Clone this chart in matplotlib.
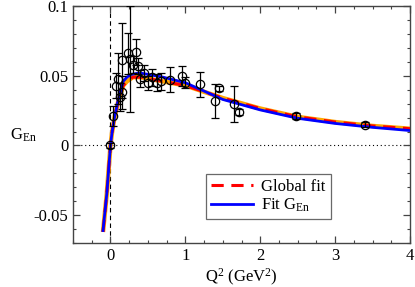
import matplotlib
matplotlib.use("Agg")
import matplotlib.pyplot as plt
from matplotlib.ticker import MultipleLocator

plt.rcParams['font.family'] = ['Liberation Serif', 'DejaVu Serif']
plt.rcParams['mathtext.fontset'] = 'custom'
plt.rcParams['mathtext.rm'] = 'Liberation Serif'
plt.rcParams['mathtext.it'] = 'Liberation Serif:italic'

# Data points (Q^2, G_En, error)
data_x = [0.00, 0.03, 0.07, 0.10, 0.13, 0.15, 0.16, 0.23, 0.26, 0.30, 0.34, 0.37,
          0.40, 0.45, 0.50, 0.56, 0.62, 0.67, 0.79, 0.96, 1.00, 1.19, 1.40, 1.45,
          1.65, 1.72, 2.48, 3.40]
data_y = [0.000, 0.021, 0.043, 0.048, 0.035, 0.061, 0.038, 0.066, 0.062, 0.058, 0.067, 0.057,
          0.048, 0.052, 0.045, 0.049, 0.045, 0.046, 0.047, 0.050, 0.045, 0.044, 0.032, 0.041,
          0.030, 0.024, 0.021, 0.015]
data_err = [0.002, 0.007, 0.009, 0.018, 0.010, 0.027, 0.012, 0.015, 0.038, 0.006, 0.009, 0.006,
            0.006, 0.006, 0.005, 0.006, 0.006, 0.006, 0.009, 0.007, 0.004, 0.009, 0.012, 0.002,
            0.013, 0.002, 0.002, 0.0015]

# Fit curves
blue_x = [-0.10, -0.05, 0.00, 0.02, 0.05, 0.10, 0.17, 0.22, 0.28, 0.39, 0.50, 0.70,
          1.00, 1.50, 2.00, 2.50, 3.00, 3.50, 4.00]
blue_y = [-0.061, -0.035, 0.000, 0.009, 0.019, 0.032, 0.046, 0.049, 0.051, 0.052, 0.051, 0.049,
          0.045, 0.033, 0.0255, 0.0195, 0.0158, 0.0130, 0.0107]
red_x = [-0.10, -0.05, 0.00, 0.02, 0.05, 0.10, 0.17, 0.22, 0.30, 0.40, 0.50, 0.70,
         1.00, 1.50, 2.00, 2.50, 3.00, 3.50, 4.00]
red_y = [-0.062, -0.035, 0.000, 0.009, 0.019, 0.031, 0.043, 0.046, 0.049, 0.049, 0.048, 0.046,
         0.043, 0.0340, 0.0265, 0.0205, 0.0168, 0.0140, 0.0120]

fig = plt.figure(figsize=(4.15, 2.87), dpi=100)
ax = fig.add_axes([0.176, 0.153, 0.812, 0.826])

ax.axvline(0, color='black', lw=0.8, ls=(0, (4, 3)), zorder=1)
ax.axhline(0, color='black', lw=0.8, ls=(0, (1, 2.5)), zorder=1)

ax.plot(red_x, red_y, color='#ffa500', lw=3.2, zorder=2, solid_capstyle='butt')
ax.plot(red_x, red_y, color='red', lw=2.2, ls=(0, (4, 2.5)), zorder=3, label='Global fit')
ax.plot(blue_x, blue_y, color='blue', lw=2.0, zorder=4, label=r'Fit G$_{\mathrm{En}}$')

ax.errorbar(data_x, data_y, yerr=data_err, fmt='o', mfc='none', mec='black', ms=6,
            mew=0.9, ecolor='black', elinewidth=0.9, capsize=3, capthick=0.9, zorder=5)

ax.set_xlim(-0.5, 4)
ax.set_ylim(-0.07, 0.1)
ax.xaxis.set_major_locator(MultipleLocator(1))
ax.xaxis.set_minor_locator(MultipleLocator(0.25))
ax.yaxis.set_major_locator(MultipleLocator(0.05))
ax.yaxis.set_minor_locator(MultipleLocator(0.01))
ax.set_yticks([-0.05, 0, 0.05, 0.1])
ax.set_yticklabels(['-0.05', '0', '0.05', '0.1'])
ax.set_xticks([0, 1, 2, 3, 4])
ax.set_xticklabels(['0', '1', '2', '3', '4'])
ax.tick_params(which='both', direction='in', top=True, right=True, labelsize=12, color='#444444')
ax.tick_params(which='major', length=5, width=0.9)
ax.tick_params(which='minor', length=2.5, width=0.8)
for s in ax.spines.values():
    s.set_color('#444444')
    s.set_linewidth(1.0)

ax.set_xlabel(r'Q$^{2}$ (GeV$^{2}$)', fontsize=12, labelpad=2)
fig.text(0.025, 0.53, r'G$_{\mathrm{En}}$', fontsize=12, ha='left', va='center')

leg = ax.legend(loc='lower left', bbox_to_anchor=(0.395, 0.1), fontsize=12, frameon=True,
                fancybox=False, edgecolor='#444444', handlelength=2.5, handletextpad=0.5,
                borderpad=0.3, labelspacing=0.1, borderaxespad=0)
leg.get_frame().set_linewidth(0.9)

fig.savefig('out.png', dpi=100)
